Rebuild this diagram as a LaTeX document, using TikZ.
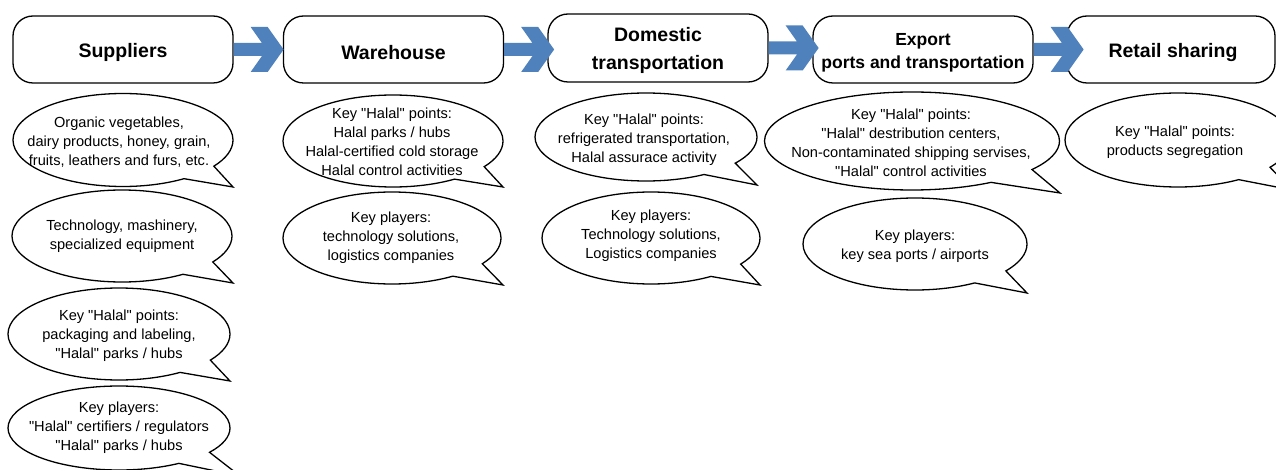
\documentclass[tikz,border=0pt]{standalone}
\usepackage{fontspec}
\setmainfont{Liberation Sans}
\usetikzlibrary{shapes.callouts}
\definecolor{arrowblue}{RGB}{79,129,189}
\newcommand\sq{\XeTeXglyph\XeTeXcharglyph"22\relax}
\newcommand\halal{\sq Halal\sq}
\newcommand\chevarrow[1]{\fill[flow, shift={(#1)}] (0,-6.5) -- (28.3,-6.5) -- (17,-22.5) -- (34,-22.5) -- (50,0) -- (34,22.5) -- (17,22.5) -- (28.3,6.5) -- (0,6.5) -- cycle;}
\begin{document}
\begin{tikzpicture}[x=1pt,y=-1pt,
  stage/.style={draw, line width=1.3pt, rounded corners=20pt, minimum width=220pt, minimum height=67pt, inner sep=0pt},
  title/.style={align=center, inner sep=0pt, font=\bfseries\fontsize{19.5}{28}\selectfont},
  bubble/.style={ellipse callout, draw, line width=1.3pt, inner sep=0pt, callout pointer arc=22},
  btext/.style={align=center, inner sep=0pt, font=\fontsize{14.6}{19}\selectfont},
  flow/.style={fill=arrowblue}]
\useasboundingbox (0,0) rectangle (1276,470);
\clip (0,0) rectangle (1276,470);

% stages
\node[stage] (sup) at (123,49.5) {};
\node[title] at ([yshift=-3pt]sup.center) {Suppliers};
\node[stage] (war) at (393.5,49.5) {};
\node[title] at ([yshift=-3pt]war.center) {Warehouse};
\node[stage, minimum height=68pt] (dom) at (658,48) {};
\node[title] at ([yshift=-2pt]dom.center) {Domestic\\transportation};
\node[stage] (exp) at (923,49.5) {};
\node[title, font=\bfseries\fontsize{17.5}{23}\selectfont] at ([yshift=-3pt]exp.center) {Export\\ports and transportation};
\node[stage, minimum width=208pt] (ret) at (1171,49.5) {};
\node[title] at ([xshift=2pt,yshift=-3pt]ret.center) {Retail sharing};

% block arrows
\chevarrow{sup.east}
\chevarrow{war.east}
\chevarrow{dom.east}
\chevarrow{exp.east}

% suppliers column
\node[bubble, minimum width=220pt, minimum height=93pt, callout absolute pointer={(233,187)}] (b1) at (123,140) {};
\node[btext] at ([shift={(-4,2)}]b1.center) {Organic vegetables,\\dairy products, honey, grain,\\fruits, leathers and furs, etc.};

\node[bubble, minimum width=220pt, minimum height=92pt, callout absolute pointer={(233,283)}] (b2) at (122,236) {};
\node[btext] at (b2.center) {Technology, mashinery,\\specialized equipment};

\node[bubble, minimum width=222pt, minimum height=92pt, callout absolute pointer={(230,381)}] (b3) at (119,334) {};
\node[btext] at ([shift={(0,2)}]b3.center) {Key \halal\ points:\\packaging and labeling,\\\halal\ parks / hubs};

\node[bubble, minimum width=222pt, minimum height=84pt, callout absolute pointer={(240,476)}] (b4) at (119,428) {};
\node[btext] at (b4.center) {Key players:\\\halal\ certifiers / regulators\\\halal\ parks / hubs};

% warehouse column
\node[bubble, minimum width=220pt, minimum height=92pt, callout absolute pointer={(503,187)}] (b5) at (393,141) {};
\node[btext] at ([shift={(-1,1)}]b5.center) {Key \halal\ points:\\Halal parks / hubs\\Halal-certified cold storage\\Halal control activities};

\node[bubble, minimum width=218pt, minimum height=92pt, callout absolute pointer={(503,285)}] (b6) at (392,238) {};
\node[btext] at ([shift={(-1,0)}]b6.center) {Key players:\\technology solutions,\\logistics companies};

% domestic column
\node[bubble, minimum width=222pt, minimum height=88pt, callout absolute pointer={(757,185)}] (b7) at (646,137) {};
\node[btext] at ([shift={(-2,3)}]b7.center) {Key \halal\ points:\\refrigerated transportation,\\Halal assurace activity};

\node[bubble, minimum width=218pt, minimum height=92pt, callout absolute pointer={(760,285)}] (b8) at (651,238) {};
\node[btext] at ([shift={(0,-2)}]b8.center) {Key players:\\Technology solutions,\\Logistics companies};

% export column
\node[bubble, minimum width=295pt, minimum height=98pt, callout absolute pointer={(1060,193)}] (b9) at (912,141) {};
\node[btext] at ([shift={(-1,2)}]b9.center) {Key \halal\ points:\\\halal\ destribution centers,\\Non-contaminated shipping servises,\\\halal\ control activities};

\node[bubble, minimum width=224pt, minimum height=92pt, callout absolute pointer={(1027,293)}] (b10) at (915,244) {};
\node[btext] at ([shift={(0,2)}]b10.center) {Key players:\\key sea ports / airports};

% retail column
\node[bubble, minimum width=226pt, minimum height=94pt, callout absolute pointer={(1292,190)}] (b11) at (1178,140) {};
\node[btext] at ([shift={(-3,2)}]b11.center) {Key \halal\ points:\\products segregation};
\end{tikzpicture}
\end{document}
